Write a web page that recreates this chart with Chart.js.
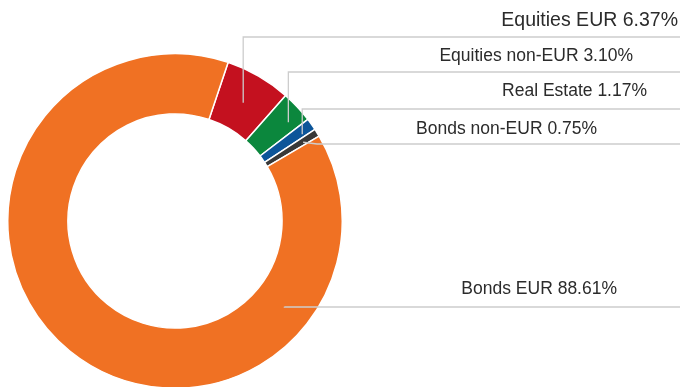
<!DOCTYPE html>
<html>
<head>
<meta charset="utf-8">
<script src="https://cdn.jsdelivr.net/npm/chart.js@4"></script>
<style>
    html, body { margin: 0; padding: 0; background: #fff; overflow: hidden; }
    #wrap { position: relative; width: 680px; height: 387px; overflow: hidden; }
    #allocationChart { position: absolute; left: 0; top: 0; }
</style>
</head>
<body>
<div id="wrap"><canvas id="allocationChart" width="680" height="391"></canvas></div>
<script>
// Portfolio allocation
const categories = ['Equities EUR', 'Equities non-EUR', 'Real Estate', 'Bonds non-EUR', 'Bonds EUR'];
const shares = [6.37, 3.10, 1.17, 0.75, 88.61];
const sliceColors = ['#c4111f', '#0b873d', '#0c5599', '#383838', '#f07123'];

// Label placement: text baseline row, line row, font size, where the leader enters the slice
const labelY = [21, 56, 91, 129, 289];
const lineY = [37, 72, 109, 144, 307];
const fontSizes = [19.5, 17.5, 17.5, 17.5, 17.5];
const textRight = [678, 633, 647, 597, 617];
const anchorAt = [0.5, 0.67, 0.74, 0.6, 0.215];   // fraction along the arc
const anchorDepth = [0.49, 0.72, 0.78, 0.72, 0.53]; // 0 = inner edge, 1 = outer edge

const leaderLabels = {
    id: 'leaderLabels',
    afterDatasetsDraw(chart) {
        const ctx = chart.ctx;
        const arcs = chart.getDatasetMeta(0).data;
        ctx.save();
        arcs.forEach((arc, i) => {
            const p = arc.getProps(['x', 'y', 'startAngle', 'endAngle', 'innerRadius', 'outerRadius'], true);
            const a = p.startAngle + (p.endAngle - p.startAngle) * anchorAt[i];
            const r = p.innerRadius + (p.outerRadius - p.innerRadius) * anchorDepth[i];
            const ax = p.x + Math.cos(a) * r;
            const ay = p.y + Math.sin(a) * r;

            ctx.strokeStyle = '#cdcdcd';
            ctx.lineWidth = 1.3;
            ctx.beginPath();
            ctx.moveTo(ax, ay);
            if (i === 3) {
                ctx.lineTo(ax + 14, lineY[i]);
            } else if (i === 4) {
                ctx.lineTo(ax, lineY[i]);
            } else {
                ctx.lineTo(ax, lineY[i]);
            }
            ctx.lineTo(chart.width, lineY[i]);
            ctx.stroke();

            ctx.fillStyle = '#2b2b2b';
            ctx.font = fontSizes[i] + 'px "Liberation Sans", Arial, sans-serif';
            ctx.textAlign = 'right';
            ctx.textBaseline = 'middle';
            ctx.fillText(categories[i] + ' ' + shares[i].toFixed(2) + '%', textRight[i], labelY[i]);
        });
        ctx.restore();
    }
};

new Chart(document.getElementById('allocationChart'), {
    type: 'doughnut',
    data: {
        labels: categories,
        datasets: [{
            data: shares,
            backgroundColor: sliceColors,
            borderColor: '#ffffff',
            borderWidth: 1.5
        }]
    },
    options: {
        responsive: false,
        animation: false,
        cutout: '64%',
        rotation: 18.5,
        layout: {
            padding: { left: 7, top: 53, right: 337, bottom: 2 }
        },
        plugins: {
            legend: { display: false },
            tooltip: { enabled: false }
        }
    },
    plugins: [leaderLabels]
});
</script>
</body>
</html>
